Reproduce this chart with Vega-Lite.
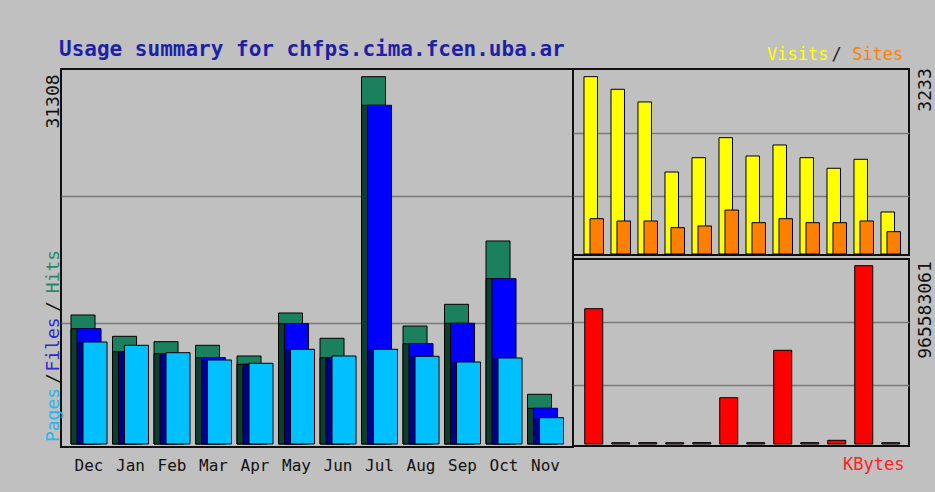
{
  "$schema": "https://vega.github.io/schema/vega-lite/v6.json",
  "background": "#c0c0c0",
  "padding": {"left": 42, "top": 38, "right": 6, "bottom": 25},
  "data": {"values": [
    {"month": "Dec", "hits": 10996, "files": 9828, "pages": 8694, "visits": 3233, "sites": 644, "kbytes": 732700000},
    {"month": "Jan", "hits": 9180, "files": 7868, "pages": 8413, "visits": 3003, "sites": 602, "kbytes": 7100000},
    {"month": "Feb", "hits": 8720, "files": 7697, "pages": 7782, "visits": 2772, "sites": 602, "kbytes": 7400000},
    {"month": "Mar", "hits": 8413, "files": 7356, "pages": 7160, "visits": 1495, "sites": 480, "kbytes": 6900000},
    {"month": "Apr", "hits": 7501, "files": 6794, "pages": 6879, "visits": 1756, "sites": 511, "kbytes": 7600000},
    {"month": "May", "hits": 11166, "files": 10254, "pages": 8072, "visits": 2121, "sites": 802, "kbytes": 250700000},
    {"month": "Jun", "hits": 9010, "files": 7356, "pages": 7501, "visits": 1787, "sites": 571, "kbytes": 7200000},
    {"month": "Jul", "hits": 31308, "files": 28871, "pages": 8072, "visits": 1988, "sites": 644, "kbytes": 507400000},
    {"month": "Aug", "hits": 10058, "files": 8550, "pages": 7476, "visits": 1756, "sites": 571, "kbytes": 7300000},
    {"month": "Sep", "hits": 11908, "files": 10288, "pages": 6990, "visits": 1563, "sites": 571, "kbytes": 20000000},
    {"month": "Oct", "hits": 17304, "files": 14090, "pages": 7331, "visits": 1727, "sites": 602, "kbytes": 965583061},
    {"month": "Nov", "hits": 4236, "files": 3043, "pages": 2242, "visits": 766, "sites": 407, "kbytes": 7000000}
  ]},
  "spacing": 0,
  "bounds": "flush",
  "hconcat": [
    {
      "width": 512,
      "height": 378,
      "title": {"text": "Usage summary for chfps.cima.fcen.uba.ar", "anchor": "start", "frame": "group", "font": "DejaVu Sans Mono", "fontSize": 21, "fontWeight": "bold", "color": "#1f1fa6", "offset": -8, "baseline": "alphabetic", "dx": -2},
      "encoding": {
        "x": {
          "field": "month", "type": "nominal", "sort": null,
          "scale": {"domain": ["Dec","Jan","Feb","Mar","Apr","May","Jun","Jul","Aug","Sep","Oct","Nov"], "paddingInner": 0, "paddingOuter": 0.1687, "align": 0.52},
          "axis": {"title": null, "labelAngle": 0, "ticks": false, "tickSize": 0, "domain": false, "labelPadding": 10, "labelFontSize": 16, "labelBaseline": "top", "labelColor": "#111111", "labelFont": "DejaVu Sans Mono", "grid": false}
        }
      },
      "layer": [
        {
          "mark": {"type": "bar", "width": 24, "xOffset": -6, "fill": "#1a805e", "stroke": "#000000", "strokeWidth": 1},
          "encoding": {
            "y": {
              "field": "hits", "type": "quantitative",
              "scale": {"domain": [-256, 31965], "nice": false, "zero": false},
              "axis": {
                "title": null, "orient": "left", "ticks": false, "tickSize": 0, "domain": false,
                "values": [2515, 5626, 8524, 11763, 14747, 29237, 10314, 21140],
                "labelExpr": "datum.value == 10314 || datum.value == 21140 ? '' : datum.value > 25000 ? '31308' : datum.value > 14000 ? 'Hits' : datum.value > 11000 ? '/' : datum.value > 8000 ? 'Files' : datum.value > 5000 ? '/' : 'Pages'",
                "labelAngle": -90, "labelAlign": "center", "labelBaseline": "alphabetic", "labelPadding": 3,
                "labelFont": "DejaVu Sans Mono", "labelFontSize": 18,
                "labelColor": {"condition": [{"test": "datum.value == 14747", "value": "#1e8c66"}, {"test": "datum.value == 8524", "value": "#2a2ad0"}, {"test": "datum.value == 2515", "value": "#2cb4ec"}], "value": "#111111"},
                "labelOverlap": false, "labelBound": false, "labelFlush": false,
                "grid": true, "gridWidth": 1.5,
                "gridColor": {"condition": {"test": "datum.value == 10314 || datum.value == 21140", "value": "#7a7a7a"}, "value": "transparent"}
              }
            }
          }
        },
        {
          "mark": {"type": "bar", "width": 24, "xOffset": -6, "fill": "#0c3f2e", "stroke": "#000000", "strokeWidth": 1},
          "encoding": {
            "y": {
              "field": "files", "type": "quantitative",
              "scale": {"domain": [-256, 31965], "nice": false, "zero": false},
              "axis": {
                "title": null, "orient": "left", "ticks": false, "tickSize": 0, "domain": false,
                "values": [2515, 5626, 8524, 11763, 14747, 29237, 10314, 21140],
                "labelExpr": "datum.value == 10314 || datum.value == 21140 ? '' : datum.value > 25000 ? '31308' : datum.value > 14000 ? 'Hits' : datum.value > 11000 ? '/' : datum.value > 8000 ? 'Files' : datum.value > 5000 ? '/' : 'Pages'",
                "labelAngle": -90, "labelAlign": "center", "labelBaseline": "alphabetic", "labelPadding": 3,
                "labelFont": "DejaVu Sans Mono", "labelFontSize": 18,
                "labelColor": {"condition": [{"test": "datum.value == 14747", "value": "#1e8c66"}, {"test": "datum.value == 8524", "value": "#2a2ad0"}, {"test": "datum.value == 2515", "value": "#2cb4ec"}], "value": "#111111"},
                "labelOverlap": false, "labelBound": false, "labelFlush": false,
                "grid": true, "gridWidth": 1.5,
                "gridColor": {"condition": {"test": "datum.value == 10314 || datum.value == 21140", "value": "#7a7a7a"}, "value": "transparent"}
              }
            }
          }
        },
        {
          "mark": {"type": "bar", "width": 24, "xOffset": 0, "fill": "#00008c", "stroke": "#000000", "strokeWidth": 1},
          "encoding": {
            "y": {
              "field": "files", "type": "quantitative",
              "scale": {"domain": [-256, 31965], "nice": false, "zero": false},
              "axis": {
                "title": null, "orient": "left", "ticks": false, "tickSize": 0, "domain": false,
                "values": [2515, 5626, 8524, 11763, 14747, 29237, 10314, 21140],
                "labelExpr": "datum.value == 10314 || datum.value == 21140 ? '' : datum.value > 25000 ? '31308' : datum.value > 14000 ? 'Hits' : datum.value > 11000 ? '/' : datum.value > 8000 ? 'Files' : datum.value > 5000 ? '/' : 'Pages'",
                "labelAngle": -90, "labelAlign": "center", "labelBaseline": "alphabetic", "labelPadding": 3,
                "labelFont": "DejaVu Sans Mono", "labelFontSize": 18,
                "labelColor": {"condition": [{"test": "datum.value == 14747", "value": "#1e8c66"}, {"test": "datum.value == 8524", "value": "#2a2ad0"}, {"test": "datum.value == 2515", "value": "#2cb4ec"}], "value": "#111111"},
                "labelOverlap": false, "labelBound": false, "labelFlush": false,
                "grid": true, "gridWidth": 1.5,
                "gridColor": {"condition": {"test": "datum.value == 10314 || datum.value == 21140", "value": "#7a7a7a"}, "value": "transparent"}
              }
            }
          }
        },
        {
          "transform": [{"filter": "datum.files > datum.pages"}],
          "mark": {"type": "bar", "width": 23, "xOffset": 0, "fill": "#0000ff"},
          "encoding": {
            "y": {
              "field": "files", "type": "quantitative",
              "scale": {"domain": [-256, 31965], "nice": false, "zero": false},
              "axis": {
                "title": null, "orient": "left", "ticks": false, "tickSize": 0, "domain": false,
                "values": [2515, 5626, 8524, 11763, 14747, 29237, 10314, 21140],
                "labelExpr": "datum.value == 10314 || datum.value == 21140 ? '' : datum.value > 25000 ? '31308' : datum.value > 14000 ? 'Hits' : datum.value > 11000 ? '/' : datum.value > 8000 ? 'Files' : datum.value > 5000 ? '/' : 'Pages'",
                "labelAngle": -90, "labelAlign": "center", "labelBaseline": "alphabetic", "labelPadding": 3,
                "labelFont": "DejaVu Sans Mono", "labelFontSize": 18,
                "labelColor": {"condition": [{"test": "datum.value == 14747", "value": "#1e8c66"}, {"test": "datum.value == 8524", "value": "#2a2ad0"}, {"test": "datum.value == 2515", "value": "#2cb4ec"}], "value": "#111111"},
                "labelOverlap": false, "labelBound": false, "labelFlush": false,
                "grid": true, "gridWidth": 1.5,
                "gridColor": {"condition": {"test": "datum.value == 10314 || datum.value == 21140", "value": "#7a7a7a"}, "value": "transparent"}
              }
            },
            "y2": {"field": "pages"}
          }
        },
        {
          "mark": {"type": "bar", "width": 24, "xOffset": 6, "fill": "#00c0ff", "stroke": "#000000", "strokeWidth": 1},
          "encoding": {
            "y": {
              "field": "pages", "type": "quantitative",
              "scale": {"domain": [-256, 31965], "nice": false, "zero": false},
              "axis": {
                "title": null, "orient": "left", "ticks": false, "tickSize": 0, "domain": false,
                "values": [2515, 5626, 8524, 11763, 14747, 29237, 10314, 21140],
                "labelExpr": "datum.value == 10314 || datum.value == 21140 ? '' : datum.value > 25000 ? '31308' : datum.value > 14000 ? 'Hits' : datum.value > 11000 ? '/' : datum.value > 8000 ? 'Files' : datum.value > 5000 ? '/' : 'Pages'",
                "labelAngle": -90, "labelAlign": "center", "labelBaseline": "alphabetic", "labelPadding": 3,
                "labelFont": "DejaVu Sans Mono", "labelFontSize": 18,
                "labelColor": {"condition": [{"test": "datum.value == 14747", "value": "#1e8c66"}, {"test": "datum.value == 8524", "value": "#2a2ad0"}, {"test": "datum.value == 2515", "value": "#2cb4ec"}], "value": "#111111"},
                "labelOverlap": false, "labelBound": false, "labelFlush": false,
                "grid": true, "gridWidth": 1.5,
                "gridColor": {"condition": {"test": "datum.value == 10314 || datum.value == 21140", "value": "#7a7a7a"}, "value": "transparent"}
              }
            }
          }
        }
      ]
    },
    {
      "spacing": 4,
      "bounds": "flush",
      "vconcat": [
        {
          "width": 336,
          "height": 186,
          "encoding": {
            "x": {
              "field": "month", "type": "nominal", "sort": null,
              "scale": {"domain": ["Dec","Jan","Feb","Mar","Apr","May","Jun","Jul","Aug","Sep","Oct","Nov"], "paddingInner": 0, "paddingOuter": 0.2222, "align": 0.604},
              "axis": {
                "orient": "top", "title": null, "values": ["Aug", "Sep", "Nov"],
                "labelExpr": "datum.value == 'Aug' ? 'Visits' : datum.value == 'Sep' ? '/' : 'Sites'",
                "ticks": false, "tickSize": 0, "domain": false, "labelAngle": 0, "labelFontSize": 17, "labelFont": "DejaVu Sans Mono",
                "labelBaseline": "alphabetic", "labelPadding": 10, "labelAlign": "center",
                "labelColor": {"condition": [{"test": "datum.value == 'Aug'", "value": "#ffff00"}, {"test": "datum.value == 'Nov'", "value": "#ff8000"}], "value": "#222222"},
                "labelOffset": {"condition": [{"test": "datum.value == 'Aug'", "value": -12}, {"test": "datum.value == 'Nov'", "value": -13}], "value": 0},
                "labelOverlap": false, "grid": false
              }
            }
          },
          "layer": [
            {
              "mark": {"type": "bar", "width": 13.5, "xOffset": -3, "fill": "#ffff00", "stroke": "#000000", "strokeWidth": 1},
              "encoding": {
                "y": {
                  "field": "visits", "type": "quantitative",
                  "scale": {"domain": [-18, 3373], "nice": false, "zero": false},
                  "axis": {
                    "title": null, "orient": "right", "ticks": false, "tickSize": 0, "domain": false,
                    "values": [3000, 2212, 1058],
                    "labelExpr": "datum.value == 3000 ? '3233' : ''",
                    "labelAngle": -90, "labelAlign": "center", "labelBaseline": "top", "labelPadding": 7,
                    "labelFont": "DejaVu Sans Mono", "labelFontSize": 18, "labelColor": "#111111",
                    "labelOverlap": false, "labelBound": false, "labelFlush": false,
                    "grid": true, "gridWidth": 1.5,
                    "gridColor": {"condition": {"test": "datum.value != 3000", "value": "#7a7a7a"}, "value": "transparent"}
                  }
                }
              }
            },
            {
              "mark": {"type": "bar", "width": 13.5, "xOffset": 3, "fill": "#ff8000", "stroke": "#000000", "strokeWidth": 1},
              "encoding": {
                "y": {
                  "field": "sites", "type": "quantitative",
                  "scale": {"domain": [-18, 3373], "nice": false, "zero": false},
                  "axis": {
                    "title": null, "orient": "right", "ticks": false, "tickSize": 0, "domain": false,
                    "values": [3000, 2212, 1058],
                    "labelExpr": "datum.value == 3000 ? '3233' : ''",
                    "labelAngle": -90, "labelAlign": "center", "labelBaseline": "top", "labelPadding": 7,
                    "labelFont": "DejaVu Sans Mono", "labelFontSize": 18, "labelColor": "#111111",
                    "labelOverlap": false, "labelBound": false, "labelFlush": false,
                    "grid": true, "gridWidth": 1.5,
                    "gridColor": {"condition": {"test": "datum.value != 3000", "value": "#7a7a7a"}, "value": "transparent"}
                  }
                }
              }
            }
          ]
        },
        {
          "width": 336,
          "height": 187,
          "encoding": {
            "x": {
              "field": "month", "type": "nominal", "sort": null,
              "scale": {"domain": ["Dec","Jan","Feb","Mar","Apr","May","Jun","Jul","Aug","Sep","Oct","Nov"], "paddingInner": 0, "paddingOuter": 0.2222, "align": 0.604},
              "axis": {
                "orient": "bottom", "title": null, "values": ["Nov"],
                "labelExpr": "'KBytes'",
                "ticks": false, "tickSize": 0, "domain": false, "labelAngle": 0, "labelFontSize": 17, "labelFont": "DejaVu Sans Mono",
                "labelBaseline": "top", "labelPadding": 10, "labelAlign": "center", "labelOffset": -17,
                "labelColor": "#ff2020", "labelOverlap": false, "grid": false
              }
            }
          },
          "layer": [
            {
              "mark": {"type": "bar", "width": 18, "fill": "#ff0000", "stroke": "#000000", "strokeWidth": 1},
              "encoding": {
                "y": {
                  "field": "kbytes", "type": "quantitative",
                  "scale": {"domain": [-10831000, 1001870000], "nice": false, "zero": false},
                  "axis": {
                    "title": null, "orient": "right", "ticks": false, "tickSize": 0, "domain": false,
                    "values": [728400000, 660700000, 317900000],
                    "labelExpr": "datum.value == 728400000 ? '965583061' : ''",
                    "labelAngle": -90, "labelAlign": "center", "labelBaseline": "top", "labelPadding": 7,
                    "labelFont": "DejaVu Sans Mono", "labelFontSize": 18, "labelColor": "#111111",
                    "labelOverlap": false, "labelBound": false, "labelFlush": false,
                    "grid": true, "gridWidth": 1.5,
                    "gridColor": {"condition": {"test": "datum.value != 728400000", "value": "#7a7a7a"}, "value": "transparent"}
                  }
                }
              }
            }
          ]
        }
      ]
    }
  ],
  "config": {
    "view": {"fill": "#c0c0c0", "stroke": "#101010", "strokeWidth": 2},
    "font": "DejaVu Sans Mono",
    "axis": {"labelFont": "DejaVu Sans Mono", "titleFont": "DejaVu Sans Mono"}
  }
}
